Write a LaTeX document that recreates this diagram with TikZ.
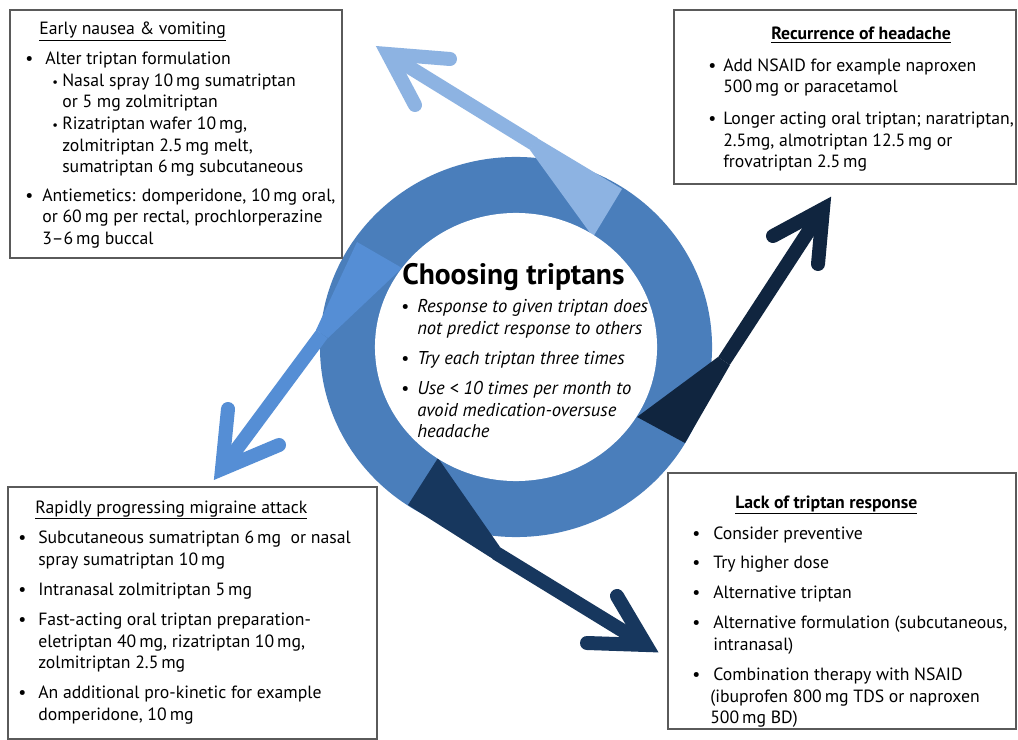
\documentclass[tikz,border=0pt]{standalone}
\usepackage{fontspec}
\setmainfont{PT Sans}
\usetikzlibrary{calc}

\definecolor{ringblue}{HTML}{4A7EBB}
\definecolor{lightarrow}{HTML}{8DB3E2}
\definecolor{midarrow}{HTML}{558ED5}
\definecolor{navyarrow}{HTML}{17375E}
\definecolor{darkarrow}{HTML}{10253F}
\definecolor{framegray}{HTML}{5A5A5A}

\newcommand\bodyfont{\fontsize{12.6}{14}\selectfont}
% wedge on the ring, shaft, open head
\def\blockarrow[#1](#2)(#3)(#4)(#5)(#6)(#7)(#8)(#9){%
  \fill[#1] (#2) -- (#3) -- (#4) -- (#5) -- cycle;
  \draw[#1, line width=0.35cm] (#6) -- (#7);
  \draw[#1, line width=0.35cm, line cap=round, line join=miter] (#8) -- (#7) -- (#9);}

\tikzset{
  frame/.style={draw=framegray, line width=1pt},
  txt/.style={anchor=base west, inner sep=0pt, font=\bodyfont},
  dot/.style={anchor=base west, inner sep=0pt, font=\bodyfont},
  smalldot/.style={anchor=base west, inner sep=0pt, font=\fontsize{9}{10}\selectfont},
  midtxt/.style={anchor=base west, inner sep=0pt, font=\fontsize{13.2}{14}\selectfont\itshape},
}

\begin{document}
\begin{tikzpicture}[x=0.025cm, y=-0.025cm]
			%%%%% START %%%%%
			\useasboundingbox (0,0) rectangle (1018,740);
			\fill[white] (0,0) rectangle (1018,740);
			
			% ring
			\fill[ringblue] (516,347) ellipse [x radius=4.9cm, y radius=4.75cm];
			
			% arrows
			\blockarrow[lightarrow](622,189)(593,237)(530,150)(537,138)(534,144)(388,54)(450,59)(415,105)
			\blockarrow[midarrow](357,242)(402,268)(328,338)(316,330)(322,334)(222,469)(228,409)(279,445)
			\blockarrow[navyarrow](408,505)(438,458)(500,547)(493,559)(496,553)(646,645)(617,596)(587,643)
			\blockarrow[darkarrow](637,417)(685,443)(730,365)(718,357)(724,361)(823,209)(773,236)(818,264)
			
			\fill[white] (516,347) ellipse [x radius=3.525cm, y radius=3.35cm];
			
			% boxes
			\draw[frame] (10,10) rectangle (342,258);
			\draw[frame] (674,10) rectangle (1016,184);
			\draw[frame] (8,487) rectangle (377,739);
			\draw[frame] (668,473) rectangle (1016,729);
			
			% early nausea
			\node[txt] (nv0) at (39,35) {\underline{Early nausea \& vomiting}};
			\node[dot] (nvb1) at (25,65) {•};
			\node[txt] (nv1) at (45,65) {Alter triptan formulation};
			\node[smalldot] (nvb2) at (52,87) {•};
			\node[txt] (nv2) at (62,87) {Nasal spray 10\,mg sumatriptan};
			\node[txt] (nv3) at (62,108) {or 5 mg zolmitriptan};
			\node[smalldot] (nvb4) at (52,130) {•};
			\node[txt] (nv4) at (62,130) {Rizatriptan wafer 10\,mg,};
			\node[txt] (nv5) at (62,152) {zolmitriptan 2.5\,mg melt,};
			\node[txt] (nv6) at (62,173) {sumatriptan 6\,mg subcutaneous};
			\node[dot] (nvb7) at (25,202) {•};
			\node[txt] (nv7) at (42,202) {Antiemetics: domperidone, 10\,mg oral,};
			\node[txt] (nv8) at (42,223) {or 60\,mg per rectal, prochlorperazine};
			\node[txt] (nv9) at (42,245) {3–6\,mg buccal};
			
			% recurrence
			\node[txt] (rc0) at (771,40) {\bfseries\underline{Recurrence of headache}};
			\node[dot] (rcb1) at (708,72) {•};
			\node[txt] (rc1) at (723,72) {Add NSAID for example naproxen};
			\node[txt] (rc2) at (723,93) {500\,mg or paracetamol};
			\node[dot] (rcb3) at (708,125) {•};
			\node[txt] (rc3) at (723,125) {Longer acting oral triptan; naratriptan,};
			\node[txt] (rc4) at (723,147) {2.5mg, almotriptan 12.5\,mg or};
			\node[txt] (rc5) at (723,168) {frovatriptan 2.5\,mg};
			
			% centre
			\node[anchor=base west, inner sep=0pt, font=\fontsize{21}{23}\selectfont\bfseries] (ct0) at (402,285) {Choosing triptans};
			\node[dot] (ctb1) at (401,313) {•};
			\node[midtxt] (ct1) at (417,313) {Response to given triptan does};
			\node[midtxt] (ct2) at (417,335) {not predict response to others};
			\node[dot] (ctb3) at (401,365) {•};
			\node[midtxt] (ct3) at (417,365) {Try each triptan three times};
			\node[dot] (ctb4) at (401,395) {•};
			\node[midtxt] (ct4) at (417,395) {Use < 10 times per month to};
			\node[midtxt] (ct5) at (417,417) {avoid medication-oversuse};
			\node[midtxt] (ct6) at (417,438) {headache};
			
			% rapidly progressing
			\node[txt] (rp0) at (35,513) {\underline{Rapidly progressing migraine attack}};
			\node[dot] (rpb1) at (18,543) {•};
			\node[txt] (rp1) at (38,543) {Subcutaneous sumatriptan 6\,mg\ \ or nasal};
			\node[txt] (rp2) at (38,565) {spray sumatriptan 10\,mg};
			\node[dot] (rpb3) at (18,595) {•};
			\node[txt] (rp3) at (38,595) {Intranasal zolmitriptan 5\,mg};
			\node[dot] (rpb4) at (18,625) {•};
			\node[txt] (rp4) at (38,625) {Fast-acting oral triptan preparation-};
			\node[txt] (rp5) at (38,647) {eletriptan 40\,mg, rizatriptan 10\,mg,};
			\node[txt] (rp6) at (38,668) {zolmitriptan 2.5\,mg};
			\node[dot] (rpb7) at (18,698) {•};
			\node[txt] (rp7) at (38,698) {An additional pro-kinetic for example};
			\node[txt] (rp8) at (38,720) {domperidone, 10\,mg};
			
			% lack of response
			\node[txt] (lr0) at (735,508) {\bfseries\underline{Lack of triptan response}};
			\node[dot] (lrb1) at (692,539) {•};
			\node[txt] (lr1) at (713,539) {Consider preventive};
			\node[dot] (lrb2) at (692,568) {•};
			\node[txt] (lr2) at (713,568) {Try higher dose};
			\node[dot] (lrb3) at (692,598) {•};
			\node[txt] (lr3) at (713,598) {Alternative triptan};
			\node[dot] (lrb4) at (692,628) {•};
			\node[txt] (lr4) at (713,628) {Alternative formulation (subcutaneous,};
			\node[txt] (lr5) at (713,650) {intranasal)};
			\node[dot] (lrb6) at (692,680) {•};
			\node[txt] (lr6) at (713,680) {Combination therapy with NSAID};
			\node[txt] (lr7) at (710,702) {(ibuprofen 800\,mg TDS or naproxen};
			\node[txt] (lr8) at (710,723) {500\,mg BD)};
			
			%%%%% END %%%%%
\end{tikzpicture}
\end{document}
